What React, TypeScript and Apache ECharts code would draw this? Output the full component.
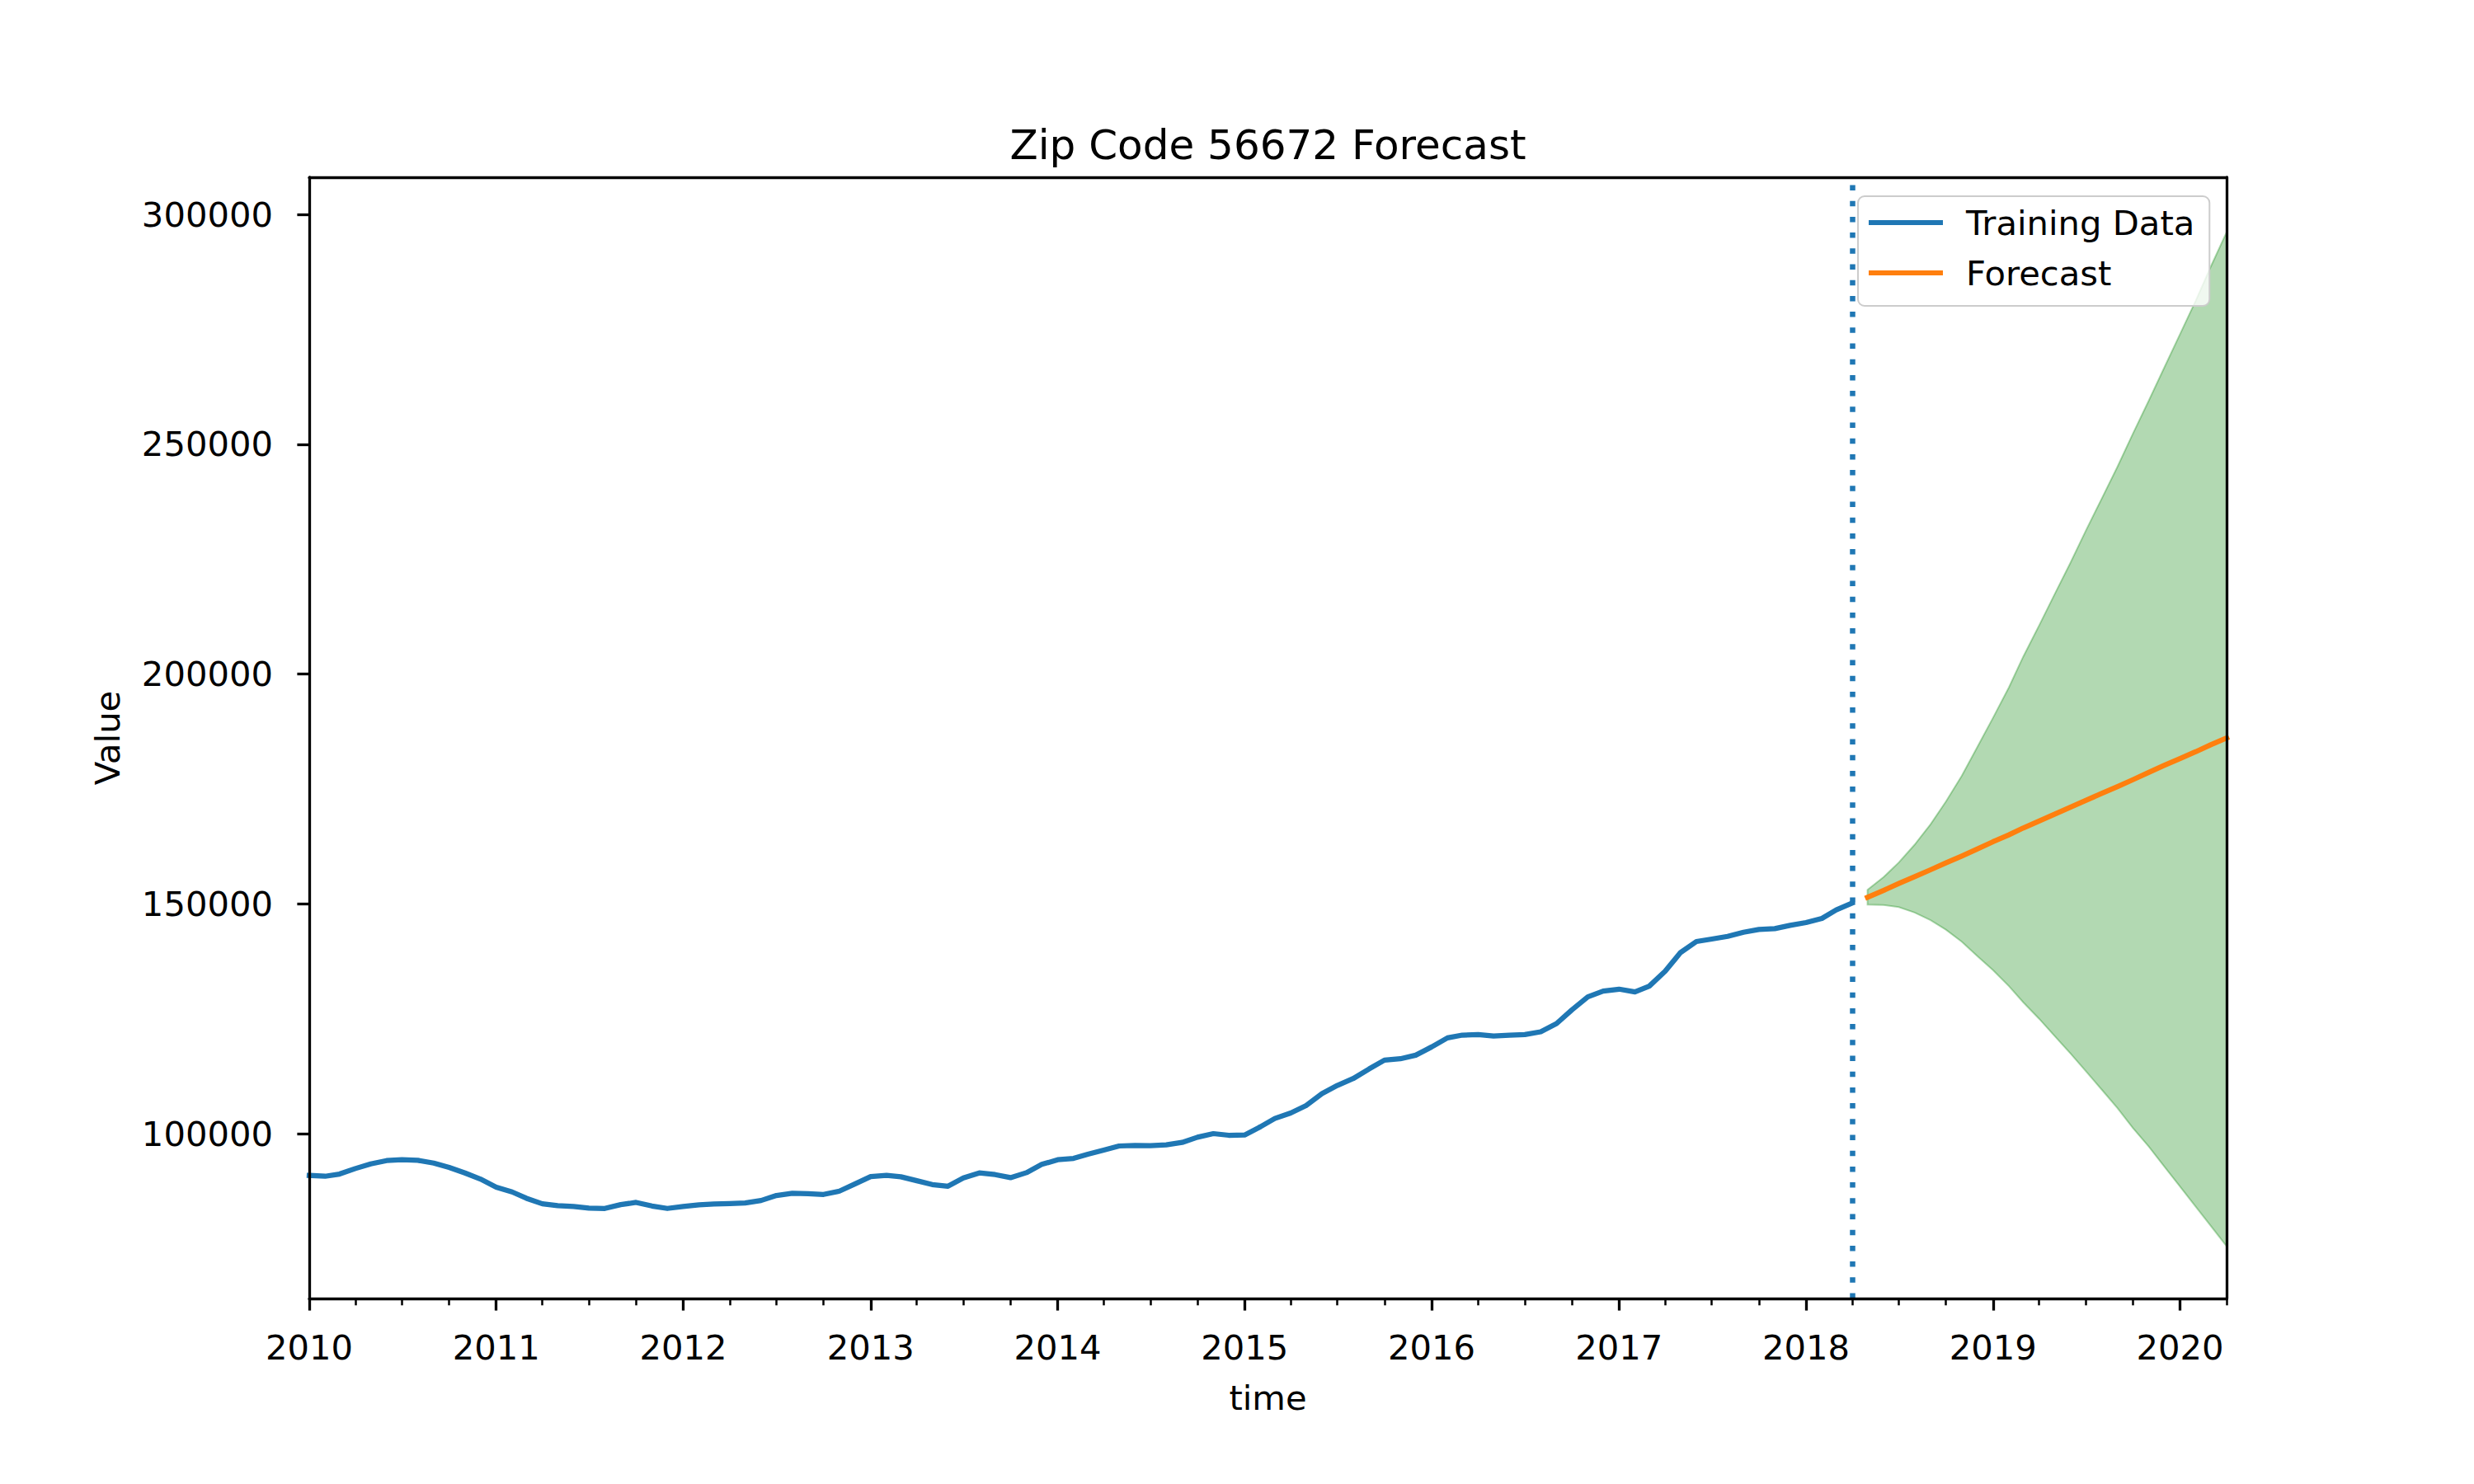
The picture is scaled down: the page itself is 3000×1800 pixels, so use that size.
import React, { useEffect, useRef } from 'react';
import * as echarts from 'echarts';

const titleText = 'Zip Code 56672 Forecast';
const xAxisName = 'time';
const yAxisName = 'Value';
const seriesNames = ['Training Data', 'Forecast'];

const trainingStart = { year: 2010, month: 1 };
const forecastStart = { year: 2018, month: 5 };
const splitDate = '2018-04-01';
const xMin = '2010-01-01';
const xMax = '2020-04-01';
const yMin = 64126;
const yMax = 308072;

const trainingValues = [
  90900, 90720, 91200, 92400, 93410, 94130, 94310, 94190, 93590, 92640, 91440, 90120,
  88330, 87310, 85930, 84730, 84310, 84130, 83780, 83720, 84550, 85030, 84250, 83720,
  84130, 84490, 84670, 84790, 84910, 85450, 86530, 87010, 86950, 86770, 87490, 89040,
  90660, 90900, 90600, 89760, 88920, 88560, 90360, 91440, 91080, 90420, 91500, 93300,
  94310, 94610, 95510, 96410, 97310, 97430, 97370, 97550, 98080, 99220, 100000, 99640,
  99700, 101500, 103290, 104490, 106110, 108680, 110480, 111980, 114070, 115990, 116290, 117060,
  118860, 120830, 121430, 121550, 121250, 121430, 121550, 122150, 123940, 126940, 129760, 131010,
  131430, 130830, 132090, 135330, 139400, 141790, 142330, 142920, 143820, 144420, 144600, 145310,
  145920, 146820, 148670, 150160,
];

const forecastValues = [
  151400, 152900, 154400, 155900, 157400, 158900, 160400, 161900, 163500, 165000, 166500, 168000,
  169500, 171000, 172500, 174000, 175500, 177000, 178600, 180100, 181600, 183100, 184600, 186100,
];

const upperCI = [
  153040, 155770, 158990, 162870, 167300, 172250, 177850, 184020, 190470, 197080, 203780, 210560,
  217290, 224180, 231140, 238100, 245110, 252270, 259460, 266600, 273920, 281290, 288610, 296120,
];

const lowerCI = [
  149800, 149750, 149270, 148090, 146440, 144360, 141750, 138670, 135560, 132090, 128560, 124990,
  121270, 117460, 113620, 109600, 105550, 101230, 97190, 92880, 88490, 84070, 79950, 75500,
];

const yTicks = [100000, 150000, 200000, 250000, 300000];
const xTickYears = [2010, 2011, 2012, 2013, 2014, 2015, 2016, 2017, 2018, 2019, 2020];
const minorTickMonths = [4, 7, 10];

const FONT = 'DejaVu Sans';
const BLUE = '#1f77b4';
const ORANGE = '#ff7f0e';

function pad2(n: number) {
  return n < 10 ? '0' + n : String(n);
}

function monthSeq(start: { year: number; month: number }, n: number): string[] {
  const out: string[] = [];
  let y = start.year;
  let m = start.month;
  for (let i = 0; i < n; i++) {
    out.push(`${y}-${pad2(m)}-01`);
    m++;
    if (m > 12) {
      m = 1;
      y++;
    }
  }
  return out;
}

function ts(s: string): number {
  const [y, m, d] = s.split('-').map(Number);
  return Date.UTC(y, m - 1, d);
}

export default function App() {
  const ref = useRef<HTMLDivElement>(null);

  useEffect(() => {
    if (!ref.current) return;
    const chart = echarts.init(ref.current, undefined, { renderer: 'svg' });

    const trainingDates = monthSeq(trainingStart, trainingValues.length).map(ts);
    const forecastDates = monthSeq(forecastStart, forecastValues.length).map(ts);
    const minTs = ts(xMin);
    const maxTs = ts(xMax);
    const majorTicks = xTickYears.map((y) => ts(`${y}-01-01`));
    const minorTicks: number[] = [];
    xTickYears.forEach((y) => {
      minorTickMonths.forEach((m) => {
        const t = ts(`${y}-${pad2(m)}-01`);
        if (t <= maxTs) minorTicks.push(t);
      });
    });

    const axisLineStyle = { color: '#000', width: 3.3 };
    const labelStyle = { fontFamily: FONT, fontSize: 41.7, color: '#000' };
    const bandColor = 'rgba(0,128,0,0.3)';

    const bandData = forecastDates.map((d, i) => [d, lowerCI[i], upperCI[i]]);

    const option: any = {
      animation: false,
      backgroundColor: '#ffffff',
      textStyle: { fontFamily: FONT },
      grid: {
        left: 375,
        top: 215,
        width: 2325,
        height: 1360,
        containLabel: false,
        outerBoundsMode: 'none',
      },
      graphic: [
        {
          type: 'text',
          x: 1537.5,
          y: 176,
          style: {
            text: titleText,
            fontFamily: FONT,
            fontSize: 50,
            fill: '#000',
            align: 'center',
            verticalAlign: 'middle',
          },
        },
      ],
      legend: {
        data: seriesNames,
        orient: 'vertical',
        left: 2253,
        top: 238,
        padding: [11, 18, 19, 13],
        itemGap: 19,
        itemWidth: 90,
        itemHeight: 6,
        icon: 'rect',
        backgroundColor: 'rgba(255,255,255,0.8)',
        borderColor: '#cccccc',
        borderWidth: 2,
        borderRadius: 8,
        textStyle: { ...labelStyle, padding: [0, 0, 0, 23] },
      },
      xAxis: [
        {
          type: 'value',
          min: minTs,
          max: maxTs,
          position: 'bottom',
          z: 10,
          name: xAxisName,
          nameLocation: 'middle',
          nameGap: 99,
          nameTextStyle: labelStyle,
          axisLine: { show: true, onZero: false, lineStyle: axisLineStyle },
          axisTick: {
            show: true,
            customValues: majorTicks,
            length: 14.6,
            lineStyle: { color: '#000', width: 3.3 },
          },
          axisLabel: {
            ...labelStyle,
            customValues: majorTicks,
            margin: 38,
            formatter: (v: number) => String(new Date(v).getUTCFullYear()),
          },
          splitLine: { show: false },
        },
        {
          type: 'value',
          min: minTs,
          max: maxTs,
          position: 'bottom',
          offset: 0,
          z: 10,
          axisLine: { show: false },
          axisTick: {
            show: true,
            customValues: minorTicks,
            length: 8.3,
            lineStyle: { color: '#000', width: 2.5 },
          },
          axisLabel: { show: false },
          splitLine: { show: false },
        },
        {
          type: 'value',
          min: minTs,
          max: maxTs,
          position: 'top',
          z: 10,
          axisLine: { show: true, onZero: false, lineStyle: axisLineStyle },
          axisTick: { show: false },
          axisLabel: { show: false },
          splitLine: { show: false },
        },
      ],
      yAxis: [
        {
          type: 'value',
          min: yMin,
          max: yMax,
          position: 'left',
          z: 10,
          name: yAxisName,
          nameLocation: 'middle',
          nameGap: 224,
          nameRotate: 90,
          nameTextStyle: labelStyle,
          axisLine: { show: true, onZero: false, lineStyle: axisLineStyle },
          axisTick: {
            show: true,
            customValues: yTicks,
            length: 14.6,
            lineStyle: { color: '#000', width: 3.3 },
          },
          axisLabel: {
            ...labelStyle,
            customValues: yTicks,
            margin: 44,
            formatter: (v: number) => String(v),
          },
          splitLine: { show: false },
        },
        {
          type: 'value',
          min: yMin,
          max: yMax,
          position: 'right',
          z: 10,
          axisLine: { show: true, onZero: false, lineStyle: axisLineStyle },
          axisTick: { show: false },
          axisLabel: { show: false },
          splitLine: { show: false },
        },
      ],
      series: [
        {
          name: 'Confidence Interval',
          type: 'custom',
          silent: true,
          z: 1,
          data: bandData,
          encode: { x: 0, y: [1, 2] },
          renderItem: (params: any, api: any) => {
            if (params.dataIndex !== 0) return null;
            const upperPts = bandData.map((r) => api.coord([r[0], r[2]]));
            const lowerPts = bandData.map((r) => api.coord([r[0], r[1]])).reverse();
            return {
              type: 'polygon',
              shape: { points: upperPts.concat(lowerPts) },
              style: { fill: bandColor, stroke: bandColor, lineWidth: 2 },
            };
          },
        },
        {
          name: seriesNames[0],
          type: 'line',
          symbol: 'none',
          z: 3,
          color: BLUE,
          data: trainingDates.map((d, i) => [d, trainingValues[i]]),
          lineStyle: { color: BLUE, width: 6.25, join: 'round', cap: 'square' },
          markLine: {
            silent: true,
            symbol: ['none', 'none'],
            label: { show: false },
            lineStyle: { color: BLUE, width: 6.5, type: [6.5, 12.7], cap: 'butt' },
            data: [{ xAxis: ts(splitDate) }],
          },
        },
        {
          name: seriesNames[1],
          type: 'line',
          symbol: 'none',
          z: 4,
          color: ORANGE,
          data: forecastDates.map((d, i) => [d, forecastValues[i]]),
          lineStyle: { color: ORANGE, width: 6.25, join: 'round', cap: 'square' },
        },
      ],
    };

    chart.setOption(option);
    return () => {
      chart.dispose();
    };
  }, []);

  return (
    <div
      ref={ref}
      style={{ position: 'fixed', left: 0, top: 0, width: 3000, height: 1800, background: '#fff' }}
    />
  );
}
